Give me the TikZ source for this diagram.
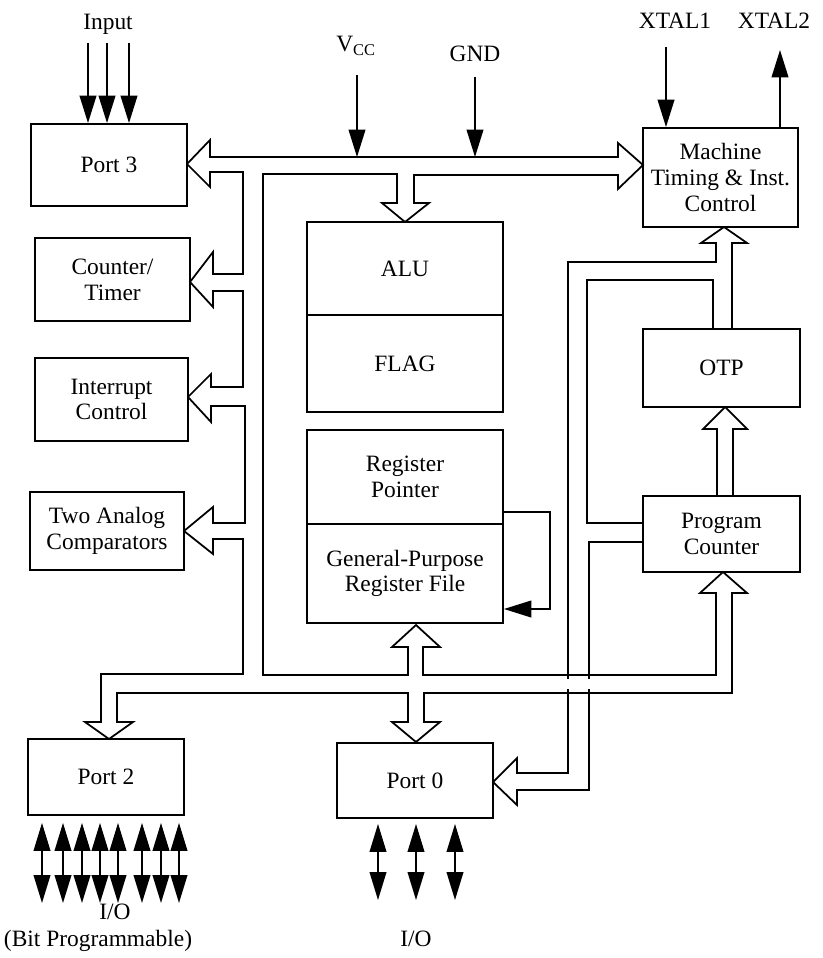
\documentclass[tikz,border=0pt]{standalone}
\usepackage{fontspec}
\setmainfont{Liberation Serif}
\usetikzlibrary{arrows.meta}

\tikzset{
	blk/.style={draw, line width=1.6pt, align=center, inner sep=0pt},
	sig/.style={line width=1.5pt, -{Triangle[length=0.82cm,width=0.5cm]}},
	io/.style={line width=1.5pt, {Triangle[length=0.84cm,width=0.5cm]}-{Triangle[length=0.84cm,width=0.5cm]}},
	bus/.style={line width=1.5pt, line join=miter},
	lbl/.style={anchor=base},
}

\begin{document}
\begin{tikzpicture}[x=0.03cm, y=-0.03cm, every node/.style={font=\fontsize{20}{22}\selectfont}]
	\useasboundingbox (0,0) rectangle (823,958);

	% blocks
	\node[blk, minimum width=4.68cm, minimum height=2.46cm] (port3) at (109,165) {Port 3};
	\node[blk, minimum width=4.65cm, minimum height=2.49cm] (ctr) at (112.5,279.5) {Counter/\\Timer};
	\node[blk, minimum width=4.59cm, minimum height=2.49cm] (intr) at (111.5,399.5) {Interrupt\\Control};
	\node[blk, minimum width=4.62cm, minimum height=2.34cm] (cmp) at (107,531) {Two Analog\\Comparators};
	\node[blk, minimum width=4.68cm, minimum height=2.28cm] (port2) at (106,777) {Port 2};

	\node[blk, minimum width=5.88cm, minimum height=2.79cm] (alu) at (405,268.5) {ALU};
	\node[blk, minimum width=5.88cm, minimum height=2.91cm] (flag) at (405,363.5) {FLAG};
	\node[blk, minimum width=5.88cm, minimum height=2.82cm] (regp) at (405,477) {Register\\Pointer};
	\node[blk, minimum width=5.88cm, minimum height=2.97cm] (gprf) at (405,573.5) {General-Purpose\\Register File};
	\node[blk, minimum width=4.68cm, minimum height=2.25cm] (port0) at (415,780.5) {Port 0};

	\node[blk, minimum width=4.65cm, minimum height=2.97cm] (mach) at (720.5,177.5) {Machine\\Timing \& Inst.\\Control};
	\node[blk, minimum width=4.71cm, minimum height=2.34cm] (otp) at (721.5,368) {OTP};
	\node[blk, minimum width=4.71cm, minimum height=2.28cm] (pc) at (721.5,534) {Program\\Counter};

	% labels
	\node[lbl] (inlbl) at (108,30) {Input};
	\node[lbl] (vcc) at (356,52) {V\textsubscript{CC}};
	\node[lbl] (gnd) at (475,62) {GND};
	\node[lbl] (xt1) at (675,29) {XTAL1};
	\node[lbl] (xt2) at (774,29) {XTAL2};
	\node[lbl] (io2) at (115,919) {I/O};
	\node[lbl] (bitp) at (98,946) {(Bit Programmable)};
	\node[lbl] (io0) at (416,946) {I/O};

	% pins
	\foreach \x in {88,107,129}
		\draw[sig] (\x,43) -- (\x,43 |- port3.north);
	\draw[sig] (357,75) -- (357,157);
	\draw[sig] (475,77) -- (475,157);
	\draw[sig] (666,47) -- (666,47 |- mach.north);
	\draw[sig] (780,0 |- mach.north) -- (780,50);
	\foreach \x in {42,63,82,100,118,142,161,179}
		\draw[io] (\x,0 |- port2.south) ++(0,7) -- (\x,903);
	\foreach \x in {378,416,455}
		\draw[io] (\x,0 |- port0.south) ++(0,5) -- (\x,900);

	% register pointer loop
	\draw[sig] (regp.east |- 0,512) -- (550,512) -- (550,609) -- (gprf.east |- 0,609);

	% main bus
	\draw[bus] (210,157) -- (618,157) -- (618,143) -- (643,165) -- (618,189) -- (618,175)
		-- (414,175) -- (414,203) -- (429,203) -- (405,222) -- (382,203) -- (397,203) -- (397,174)
		-- (263,174) -- (263,675) -- (408,675) -- (408,647) -- (392,647) -- (416,625) -- (440,647)
		-- (423,647) -- (423,675) -- (716,675) -- (716,593) -- (700,593) -- (723,572) -- (747,593)
		-- (732,593) -- (732,693) -- (424,693) -- (424,722) -- (440,722) -- (416,742) -- (392,722)
		-- (408,722) -- (408,693) -- (117,693) -- (117,722) -- (133,722) -- (109,739) -- (85,722)
		-- (101,722) -- (101,674) -- (243,674) -- (243,539) -- (213,539) -- (213,554) -- (184,531)
		-- (213,507) -- (213,523) -- (245,523) -- (245,406) -- (211,406) -- (211,422) -- (188,397)
		-- (211,374) -- (211,387) -- (243,387) -- (243,291) -- (213,291) -- (213,307) -- (190,282)
		-- (213,252) -- (213,274) -- (243,274) -- (243,172) -- (210,172) -- (210,187) -- (187,164)
		-- (210,140) -- cycle;

	% control bus
	\draw[bus] (732,329) -- (732,243) -- (747,243) -- (724,227) -- (701,243) -- (716,243) -- (716,262)
		-- (568,262) -- (568,773) -- (517,773) -- (517,758) -- (493,782) -- (517,805) -- (517,790)
		-- (589,790) -- (589,542) -- (643,542);
	\draw[bus] (713,329) -- (713,280) -- (587,280) -- (587,523) -- (643,523);
	\draw[bus] (717,496) -- (717,429) -- (703,429) -- (725,407) -- (747,429) -- (733,429) -- (733,496);
	\foreach \x in {568,589}
		\draw[white, line width=2pt] (\x,679) -- (\x,689);
\end{tikzpicture}
\end{document}
